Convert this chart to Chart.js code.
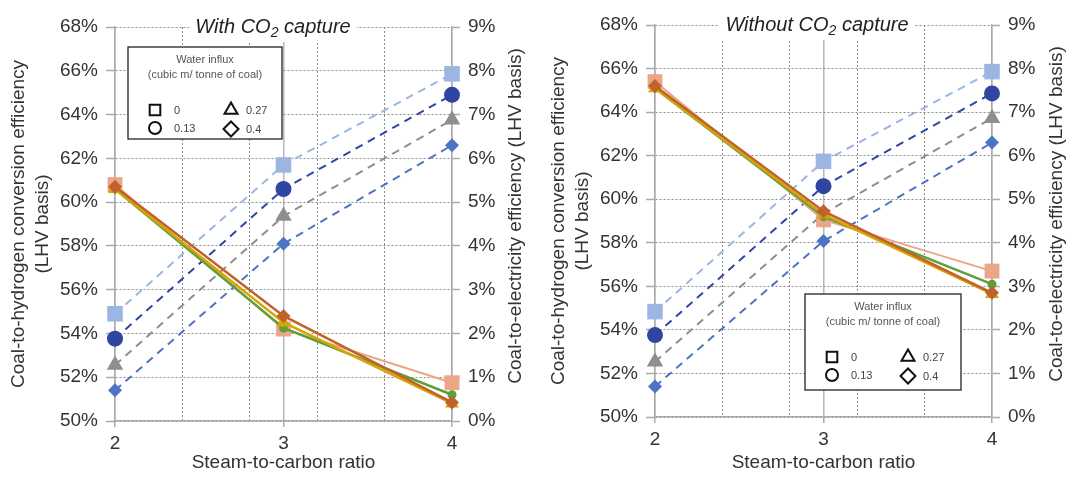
<!DOCTYPE html>
<html>
<head>
<meta charset="utf-8">
<script src="https://cdn.jsdelivr.net/npm/chart.js@4.4.1/dist/chart.umd.min.js"></script>
<style>
  body { margin: 0; background: #fff; width: 1070px; height: 477px; position: relative; overflow: hidden; }
  .panel { position: absolute; top: 0; }
</style>
</head>
<body>
<div class="panel" style="left:0"><canvas id="withCapture" width="535" height="477"></canvas></div>
<div class="panel" style="left:540px"><canvas id="withoutCapture" width="530" height="477"></canvas></div>

<script>
// steam-to-carbon ratio (x) and the vertical guide positions
const steamToCarbon = [2, 3, 4];
const xGridTicks = [2, 2.4, 2.8, 3, 3.2, 3.6, 4];
const waterInflux = ['0', '0.13', '0.27', '0.4'];
const legendTitle = ['Water influx', '(cubic m/ tonne of coal)'];

// coal-to-hydrogen efficiency, % (left axis) - with CO2 capture
const h2With_0   = [60.8, 54.2, 51.75];
const h2With_013 = [60.6, 54.25, 51.2];
const h2With_027 = [60.6, 54.5, 50.8];
const h2With_04  = [60.7, 54.8, 50.85];

// coal-to-hydrogen efficiency, % - without CO2 capture
const h2Without_0   = [65.4, 59.05, 56.7];
const h2Without_013 = [65.1, 59.2, 56.1];
const h2Without_027 = [65.1, 59.3, 55.65];
const h2Without_04  = [65.2, 59.45, 55.7];

// coal-to-electricity efficiency, % (right axis) - with CO2 capture
const elWith_0   = [2.45, 5.85, 7.93];
const elWith_013 = [1.88, 5.3, 7.45];
const elWith_027 = [1.28, 4.68, 6.88];
const elWith_04  = [0.7, 4.05, 6.3];

// coal-to-electricity efficiency, % - without CO2 capture
const elWithout_0   = [2.42, 5.87, 7.93];
const elWithout_013 = [1.88, 5.3, 7.43];
const elWithout_027 = [1.27, 4.67, 6.86];
const elWithout_04  = [0.7, 4.04, 6.3];

// looks, one per water influx level
const h2Look = [
  { color: '#EBA68A', style: 'rect', r: 10.5, w: 2, order: 3 },
  { color: '#5E9F3B', style: 'circle', r: 4.5, w: 2.5, order: 2 },
  { color: '#D8A400', style: 'triangle', r: 8, w: 2.5, order: 1 },
  { color: '#C0622C', style: 'rectRot', r: 7, w: 2.5, order: 0 }
];
const elLook = [
  { color: '#9BB6E3', style: 'rect', r: 11 },
  { color: '#2F45A2', style: 'circle', r: 8 },
  { color: '#8E8E8E', style: 'triangle', r: 9.5 },
  { color: '#4E73C4', style: 'rectRot', r: 7 }
];

Chart.defaults.font.family = '"Liberation Sans", Arial, sans-serif';
Chart.defaults.color = '#333';

const isInt = c => c.tick && Number.isInteger(c.tick.value);

// title on the top gridline, right axis title, and the marker legend
const panelDecor = {
  id: 'panelDecor',
  afterDraw(chart, args, o) {
    const ctx = chart.ctx;
    const area = chart.chartArea;
    ctx.save();

    // "With CO2 capture" with a small subscript 2
    const big = 'italic 20px "Liberation Sans", Arial, sans-serif';
    const small = 'italic 14px "Liberation Sans", Arial, sans-serif';
    ctx.font = big;
    const w1 = ctx.measureText(o.titleLead).width;
    const w3 = ctx.measureText(' capture').width;
    ctx.font = small;
    const w2 = ctx.measureText('2').width;
    const total = w1 + w2 + w3;
    let tx = o.titleX - total / 2;
    const ty = area.top;
    ctx.fillStyle = '#fff';
    ctx.fillRect(tx - 6, ty - 13, total + 12, 28);
    ctx.fillStyle = '#222';
    ctx.textBaseline = 'middle';
    ctx.textAlign = 'left';
    ctx.font = big;
    ctx.fillText(o.titleLead, tx, ty);
    ctx.font = small;
    ctx.fillText('2', tx + w1, ty + 6);
    ctx.font = big;
    ctx.fillText(' capture', tx + w1 + w2, ty);

    // right axis title, reading bottom to top
    ctx.save();
    ctx.translate(o.rightTitleX, o.rightTitleY);
    ctx.rotate(-Math.PI / 2);
    ctx.textAlign = 'center';
    ctx.font = '19px "Liberation Sans", Arial, sans-serif';
    ctx.fillStyle = '#333';
    ctx.fillText('Coal-to-electricity efficiency (LHV basis)', 0, 0);
    ctx.restore();

    // legend box
    const b = o.legend;
    ctx.fillStyle = '#fff';
    ctx.fillRect(b.x, b.y, b.w, b.h);
    ctx.strokeStyle = '#222';
    ctx.lineWidth = 1.3;
    ctx.strokeRect(b.x, b.y, b.w, b.h);
    ctx.font = '11px "Liberation Sans", Arial, sans-serif';
    ctx.fillStyle = '#555';
    ctx.textAlign = 'center';
    ctx.fillText(legendTitle[0], b.x + b.w / 2, b.y + 13);
    ctx.fillText(legendTitle[1], b.x + b.w / 2, b.y + 28);
    const slots = [[27, 63], [27, 81], [103, 63], [103, 82]];
    const shapes = [['rect', 7.5], ['circle', 6], ['triangle', 7.5], ['rectRot', 7.5]];
    slots.forEach((s, i) => {
      ctx.fillStyle = '#fff';
      ctx.strokeStyle = '#111';
      ctx.lineWidth = 2;
      Chart.helpers.drawPoint(ctx, { pointStyle: shapes[i][0], radius: shapes[i][1], rotation: 0, borderWidth: 2 }, b.x + s[0], b.y + s[1]);
      ctx.fillStyle = '#444';
      ctx.textAlign = 'left';
      ctx.fillText(waterInflux[i], b.x + s[0] + (i < 2 ? 19 : 15), b.y + s[1] + 1);
    });
    ctx.restore();
  }
};

function buildPanel(id, w, top, bottom, h2Sets, elSets, deco) {
  const datasets = [];
  h2Sets.forEach((vals, i) => {
    const lk = h2Look[i];
    datasets.push({
      label: 'Hydrogen ' + waterInflux[i],
      data: steamToCarbon.map((x, k) => ({ x: x, y: vals[k] })),
      yAxisID: 'y',
      clip: false,
      borderColor: lk.color,
      backgroundColor: lk.color,
      borderWidth: lk.w,
      pointStyle: lk.style,
      pointRadius: lk.r,
      pointBorderWidth: 0,
      order: lk.order
    });
  });
  elSets.forEach((vals, i) => {
    const lk = elLook[i];
    datasets.push({
      label: 'Electricity ' + waterInflux[i],
      data: steamToCarbon.map((x, k) => ({ x: x, y: vals[k] })),
      yAxisID: 'y2',
      clip: false,
      borderColor: lk.color,
      backgroundColor: lk.color,
      borderWidth: 2,
      borderDash: [8, 6],
      pointStyle: lk.style,
      pointRadius: lk.r,
      pointBorderWidth: 0,
      order: 10 + i
    });
  });

  new Chart(document.getElementById(id), {
    type: 'line',
    data: { datasets: datasets },
    plugins: [panelDecor],
    options: {
      responsive: false,
      animation: false,
      devicePixelRatio: 1,
      layout: { padding: { top: top, left: 0, right: 0, bottom: 0 } },
      plugins: { legend: { display: false }, tooltip: { enabled: false }, panelDecor: deco },
      scales: {
        x: {
          type: 'linear', min: 2, max: 4,
          afterBuildTicks: s => { s.ticks = xGridTicks.map(v => ({ value: v })); },
          afterFit: s => { s.height = 477 - bottom; },
          ticks: { autoSkip: false, maxRotation: 0, padding: 5, font: { size: 19 },
                   callback: v => Number.isInteger(v) ? String(v) : '' },
          grid: {
            color: c => isInt(c) ? '#b8b8b8' : '#8c8c8c',
            lineWidth: c => isInt(c) ? 1.5 : 1,
            tickLength: 6,
            tickColor: c => isInt(c) ? '#aaa' : 'rgba(0,0,0,0)',
            tickWidth: 1.5
          },
          border: { color: '#aaa', width: 1.5, dash: c => (c.tick && !Number.isInteger(c.tick.value)) ? [2, 2] : [] },
          title: { display: true, text: 'Steam-to-carbon ratio', font: { size: 19 }, padding: { top: 0, bottom: 3 } }
        },
        y: {
          position: 'left', min: 50, max: 68,
          afterFit: s => { s.width = 115; },
          ticks: { stepSize: 2, padding: 8, font: { size: 19 }, callback: v => v + '%' },
          grid: { color: '#8c8c8c', lineWidth: 1, tickLength: 9, tickColor: '#aaa', tickWidth: 1.5 },
          border: { color: '#aaa', width: 1.5, dash: [2, 2] },
          title: { display: true, text: ['Coal-to-hydrogen conversion efficiency', '(LHV basis)'],
                   font: { size: 19, lineHeight: 1.3 }, padding: { top: 6, bottom: 0 } }
        },
        y2: {
          position: 'right', min: 0, max: 9,
          afterFit: s => { s.width = w - 452; },
          ticks: { stepSize: 1, padding: 8, font: { size: 19 }, callback: v => v + '%' },
          grid: { drawOnChartArea: false, tickLength: 8, tickColor: '#aaa', tickWidth: 1.5 },
          border: { color: '#aaa', width: 1.5 }
        }
      }
    }
  });
}

buildPanel('withCapture', 535, 27, 421,
  [h2With_0, h2With_013, h2With_027, h2With_04],
  [elWith_0, elWith_013, elWith_027, elWith_04],
  { titleLead: 'With CO', titleX: 273, rightTitleX: 516, rightTitleY: 216,
    legend: { x: 128, y: 47, w: 154, h: 92 } });

buildPanel('withoutCapture', 530, 25, 417,
  [h2Without_0, h2Without_013, h2Without_027, h2Without_04],
  [elWithout_0, elWithout_013, elWithout_027, elWithout_04],
  { titleLead: 'Without CO', titleX: 277, rightTitleX: 517, rightTitleY: 214,
    legend: { x: 265, y: 294, w: 156, h: 96 } });
</script>
</body>
</html>
